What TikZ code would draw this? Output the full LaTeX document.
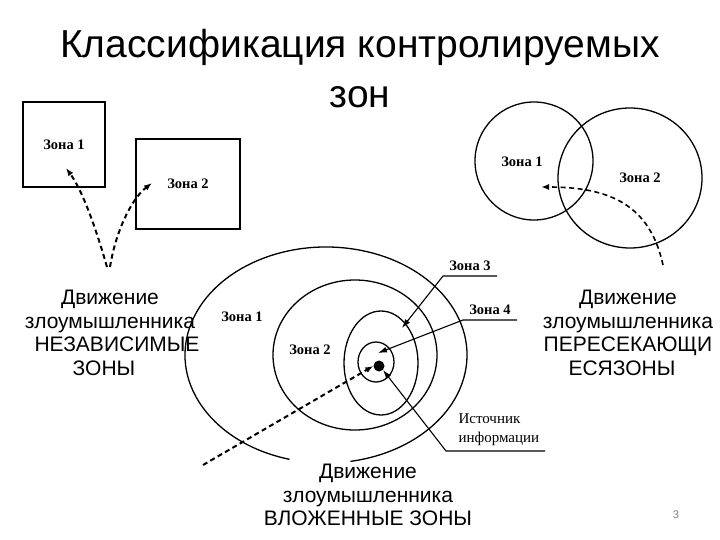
\documentclass[tikz,border=0pt]{standalone}
\usepackage{fontspec}
\setmainfont{Liberation Sans}
\newfontfamily\zonefont{Liberation Serif}
\usetikzlibrary{arrows.meta,positioning}

\begin{document}
\begin{tikzpicture}[x=1pt, y=-1pt,
	zone/.style={font=\zonefont\bfseries\fontsize{14.5}{16}\selectfont},
	info/.style={font=\zonefont\fontsize{15}{19}\selectfont, align=left},
	sq/.style={draw, line width=1.3pt, zone},
	ring/.style={line width=1.3pt},
	move/.style={line width=2pt, dash pattern=on 5pt off 3.5pt, -{Latex[length=8pt, width=6pt]}},
	lead/.style={line width=1.1pt, -{Latex[length=9pt, width=6pt]}},
	txt/.style={align=center, font=\fontsize{21}{23.5}\selectfont}]
	\useasboundingbox (0,0) rectangle (720,540);
	
	\node[align=center, font=\fontsize{39}{50}\selectfont] (title) at (360,69) {Классификация контролируемых\\зон};
	
	% independent zones
	\node[sq, minimum width=82pt, minimum height=85pt] (boxA) at (64,144.5) {Зона 1};
	\node[sq, minimum width=104pt, minimum height=90pt] (boxB) at (188,184) {Зона 2};
	\coordinate (startA) at (107,267);
	\coordinate (tipA) at (66,168);
	\coordinate (startB) at (110,267);
	\coordinate (tipB) at (152,183);
	\draw[move] (startA) .. controls (95,225) and (82,190) .. (tipA);
	\draw[move] (startB) .. controls (115,235) and (130,200) .. (tipB);
	\node[txt] (capA) at (110,333) {Движение\\злоумышленника\\\hspace*{14pt}НЕЗАВИСИМЫЕ\\ЗОНЫ\hspace*{12pt}};
	
	% crossing zones
	\draw[ring] (534,161) circle [radius=59];
	\draw[ring] (630,178) ellipse [x radius=72, y radius=70];
	\node[zone] (cirA) at (522,162) {Зона 1};
	\node[zone] (cirB) at (640,178) {Зона 2};
	\coordinate (startC) at (663,265);
	\coordinate (tipC) at (541,187);
	\draw[move, line width=1.6pt] (startC) .. controls (650,205) and (610,187) .. (tipC);
	\node[txt] (capC) at (628,333) {Движение\\злоумышленника\\ПЕРЕСЕКАЮЩИ\\ЕСЯЗОНЫ\hspace*{12pt}};
	
	% nested zones
	\draw[ring] (326,355) ++(105:141 and 108) arc [start angle=105, end angle=440, x radius=141, y radius=108];
	\draw[ring] (355,355) ellipse [x radius=82, y radius=75];
	\draw[ring] (381,363) ellipse [x radius=37, y radius=52];
	\draw[ring] (376,362) ellipse [x radius=18, y radius=20];
	\node[circle, fill, inner sep=0pt, minimum size=11pt] (src) at (379,366) {};
	\node[zone] (ovA) at (242,317) {Зона 1};
	\node[zone] (ovB) at (310,350) {Зона 2};
	\node[zone, anchor=south] (ovC) at (470,274) {Зона 3};
	\node[zone, anchor=south] (ovD) at (490,318) {Зона 4};
	\node[info, anchor=south west] (srcLbl) at (455,449) {Источник\\информации};
	\coordinate (kneeC) at (443,276);
	\coordinate (endC) at (497,276);
	\coordinate (tipZ3) at (402,328);
	\coordinate (kneeD) at (463,320);
	\coordinate (endD) at (517,320);
	\coordinate (tipZ4) at (378,353);
	\coordinate (kneeS) at (446,451);
	\coordinate (endS) at (545,451);
	\draw[lead] (endC) -- (kneeC) -- (tipZ3);
	\draw[lead] (endD) -- (kneeD) -- (tipZ4);
	\draw[lead] (endS) -- (kneeS) -- (src.south east);
	\coordinate (startD) at (203,465);
	\draw[move] (startD) -- (src.west);
	\node[txt] (capD) at (368,495) {Движение\\злоумышленника\\ВЛОЖЕННЫЕ ЗОНЫ};
	
	\node[font=\fontsize{11}{13}\selectfont, text=gray] (pnum) at (676,515) {3};
\end{tikzpicture}
\end{document}
